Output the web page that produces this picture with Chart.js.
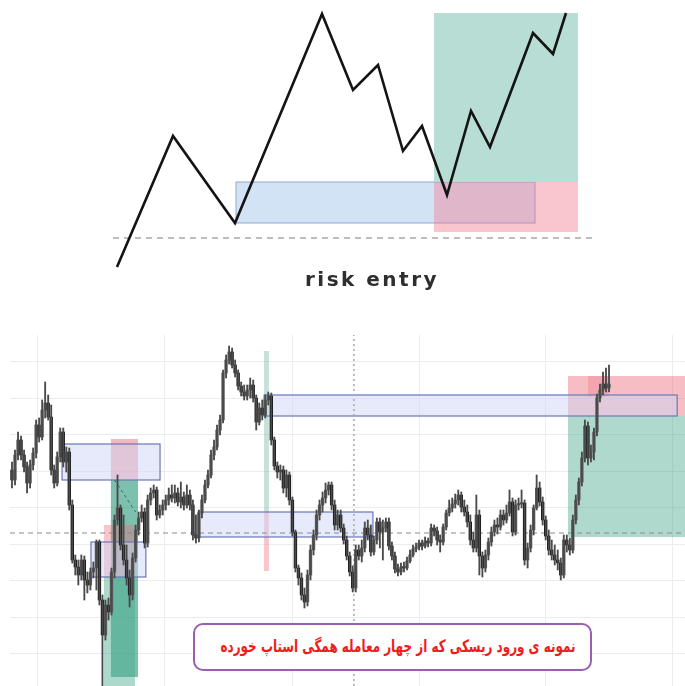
<!DOCTYPE html>
<html>
<head>
<meta charset="utf-8">
<script src="https://cdn.jsdelivr.net/npm/chart.js@4.4.1/dist/chart.umd.min.js"></script>
<style>
  body { margin: 0; width: 685px; height: 686px; background: #fff; position: relative; overflow: hidden; }
  canvas { position: absolute; }
  #topChart { left: 100px; top: 0; }
  #candleChart { left: 10px; top: 335px; }
  #caption { position: absolute; left: 222px; width: 300px; top: 268px; text-align: center;
    font: bold 20px "DejaVu Sans", sans-serif; letter-spacing: 2.5px; color: #2e2e2e; line-height: 22px; }
  #note { position: absolute; left: 193px; top: 623px; width: 399px; height: 48px; box-sizing: border-box;
    border: 2px solid #9b5fb0; border-radius: 10px; background: #fff; }
  #note span { position: absolute; right: 14px; top: 10px; direction: rtl; color: #f01c1c;
    font: bold 17px "DejaVu Sans", sans-serif; white-space: nowrap; display: inline-block;
    transform-origin: right center; line-height: 22px; }
</style>
</head>
<body>
<canvas id="topChart" width="500" height="275"></canvas>
<div id="caption">risk entry</div>
<canvas id="candleChart" width="675" height="351"></canvas>
<div id="note"><span>نمونه ی ورود ریسکی که از چهار معامله همگی استاپ خورده</span></div>
<script>
// --- top sketch: swing path ---
const swingX = [17, 73, 135, 222, 253, 278, 303, 322, 347, 371, 390, 433, 453, 466];
const swingY = [8, 139, 52, 261, 185, 210, 124, 149, 80, 164, 128, 242, 221, 262];

// --- candles (price units) ---
const firstOpen = 216;
const closes = [206,231,246,231,219,203,221,233,261,249,276,283,269,216,203,229,254,224,234,181,
  126,119,111,126,106,101,114,118,144,86,51,81,74,114,166,
  178,141,126,108,91,128,156,168,174,143,186,193,196,171,176,181,186,191,188,193,184,189,181,191,181,151,148,173,186,201,211,231,239,256,266,313,326,334,321,
  313,300,294,290,296,301,288,264,278,271,286,290,246,220,214,216,198,211,186,154,118,108,91,84,111,136,151,171,181,188,196,201,181,161,171,158,146,130,114,98,
  136,130,138,158,151,134,146,164,154,158,164,140,130,117,114,119,118,125,131,137,139,143,140,145,143,158,155,146,144,159,173,178,182,186,191,179,
  174,164,146,138,171,130,118,131,144,154,161,159,171,166,173,184,154,181,182,183,126,138,156,178,198,184,166,150,136,131,126,123,111,146,
  141,136,166,186,204,228,260,228,234,254,288,296,302,298,302];
const highs = [224,236,254,250,236,224,226,238,266,268,286,304,291,281,221,234,258,258,239,238,
  186,131,126,131,130,114,118,124,146,146,91,86,88,118,171,
  211,181,171,141,116,133,161,174,181,178,191,198,201,199,181,186,191,198,201,201,198,204,194,201,196,186,171,176,191,206,216,236,246,261,271,316,331,340,338,
  326,316,304,301,301,308,306,291,283,286,291,294,293,249,224,221,220,216,214,189,156,121,113,98,116,141,156,176,186,194,203,204,204,186,176,176,162,150,134,120,
  141,141,146,164,166,161,150,168,168,166,168,168,144,134,122,123,124,129,136,141,143,146,146,149,148,162,161,159,151,162,176,186,188,192,196,194,
  186,181,171,154,191,176,134,136,148,159,166,168,176,176,181,196,188,186,188,196,186,143,161,181,211,204,189,170,156,146,141,136,128,151,
  151,148,171,191,208,234,266,264,241,258,292,302,314,318,321];
const lows = [198,201,226,226,214,193,198,216,228,244,246,268,266,211,198,200,224,219,214,176,
  123,111,101,106,86,93,96,108,96,81,0,46,66,71,108,
  161,136,121,101,79,86,124,151,164,138,139,181,188,166,168,171,176,181,184,183,180,178,176,178,176,146,143,144,168,183,198,208,226,236,251,263,308,322,318,
  309,296,290,286,286,288,284,256,261,266,268,281,241,216,208,206,193,189,181,150,114,101,86,78,80,106,131,146,166,174,183,191,176,156,156,154,142,126,110,94,
  94,126,124,134,146,130,131,142,138,126,154,136,126,113,110,111,114,116,123,129,134,136,136,138,139,140,150,141,134,141,156,170,174,178,181,174,
  170,159,141,134,134,111,109,114,126,140,150,152,156,161,163,170,150,151,176,178,121,118,134,151,176,180,161,146,131,126,121,116,106,108,
  134,131,133,162,181,200,224,221,224,226,250,284,291,294,294];
const gridX = [8.6, 50.7, 92.9, 135, 176.8, 218.9];
const gridY = [33, 69, 106, 142, 178, 215, 251, 288, 324];

const opens = [firstOpen].concat(closes.slice(0, -1));

// squeeze the persian note to the width it has in the picture
const noteSpan = document.querySelector('#note span');
noteSpan.style.transform = 'scaleX(' + (355 / noteSpan.getBoundingClientRect().width) + ')';

// zone drawing (data units -> pixels through the scales)
function zonesPlugin(zones, guides) {
  return {
    id: 'zones',
    beforeDatasetsDraw(chart) {
      const { ctx, scales: { x, y } } = chart;
      ctx.save();
      zones.forEach(z => {
        const l = x.getPixelForValue(z.x0), r = x.getPixelForValue(z.x1);
        const t = y.getPixelForValue(z.y1), b = y.getPixelForValue(z.y0);
        ctx.fillStyle = z.fill;
        ctx.fillRect(l, t, r - l, b - t);
        if (z.stroke) {
          ctx.strokeStyle = z.stroke;
          ctx.lineWidth = z.lw || 1;
          ctx.strokeRect(l, t, r - l, b - t);
        }
      });
      guides.forEach(g => {
        ctx.beginPath();
        ctx.setLineDash(g.dash);
        ctx.strokeStyle = g.color;
        ctx.lineWidth = g.lw;
        ctx.moveTo(x.getPixelForValue(g.x0), y.getPixelForValue(g.y0));
        ctx.lineTo(x.getPixelForValue(g.x1), y.getPixelForValue(g.y1));
        ctx.stroke();
      });
      ctx.restore();
    }
  };
}

const hidden = { display: false };

new Chart(document.getElementById('topChart'), {
  type: 'scatter',
  data: {
    datasets: [{
      data: swingX.map((v, i) => ({ x: v, y: swingY[i] })),
      showLine: true,
      borderColor: '#141414',
      borderWidth: 2.6,
      pointRadius: 0,
      clip: false
    }]
  },
  options: {
    responsive: false,
    animation: false,
    layout: { padding: 0 },
    plugins: { legend: hidden, tooltip: { enabled: false } },
    scales: {
      x: { type: 'linear', min: 0, max: 500, display: false },
      y: { min: 0, max: 275, display: false }
    }
  },
  plugins: [zonesPlugin([
    { x0: 136, x1: 435, y0: 52, y1: 93, fill: '#d3e3f6', stroke: '#93a6d0' },
    { x0: 334, x1: 478, y0: 43, y1: 93, fill: 'rgba(240,120,140,0.42)' },
    { x0: 334, x1: 478, y0: 93, y1: 262, fill: '#b8ddd4' }
  ], [
    { x0: 13, x1: 492, y0: 37, y1: 37, dash: [6, 5], color: '#7a7a7a', lw: 1 }
  ])]
});

const idx = closes.map((c, i) => i);
const bull = idx.map(i => closes[i] >= opens[i]);

new Chart(document.getElementById('candleChart'), {
  type: 'bar',
  data: {
    datasets: [{
      data: idx.map(i => ({ x: i, y: [Math.min(lows[i], opens[i], closes[i]), Math.max(highs[i], opens[i], closes[i])] })),
      backgroundColor: '#4a4a4a',
      barThickness: 1.2,
      grouped: false
    }, {
      data: idx.map(i => ({ x: i, y: [opens[i], closes[i]] })),
      backgroundColor: bull.map(b => b ? '#5e5e5e' : '#121212'),
      barThickness: 2.7,
      minBarLength: 1.5,
      grouped: false
    }]
  },
  options: {
    responsive: false,
    animation: false,
    layout: { padding: 0 },
    plugins: { legend: hidden, tooltip: { enabled: false } },
    scales: {
      x: {
        type: 'linear', min: -0.66, max: 223.2, offset: false,
        grid: { color: '#ececec', offset: false, drawTicks: false },
        border: { display: false }, ticks: { display: false },
        afterBuildTicks: s => { s.ticks = gridX.map(v => ({ value: v })); }
      },
      y: {
        min: 0, max: 351,
        grid: { color: '#ececec', drawTicks: false },
        border: { display: false }, ticks: { display: false },
        afterBuildTicks: s => { s.ticks = gridY.map(v => ({ value: v })); }
      }
    }
  },
  plugins: [zonesPlugin([
    { x0: 32.8, x1: 41.8, y0: 206, y1: 247, fill: 'rgba(235,110,125,0.5)' },
    { x0: 32.8, x1: 41.8, y0: 9, y1: 206, fill: 'rgba(40,150,120,0.6)' },
    { x0: 30.5, x1: 40.8, y0: 109, y1: 161, fill: 'rgba(235,110,125,0.4)' },
    { x0: 30.5, x1: 40.8, y0: 0, y1: 109, fill: 'rgba(70,170,140,0.45)' },
    { x0: 83.6, x1: 85.2, y0: 174, y1: 335, fill: 'rgba(90,170,150,0.35)' },
    { x0: 83.6, x1: 85.2, y0: 115, y1: 174, fill: 'rgba(235,110,125,0.4)' },
    { x0: 184.4, x1: 224, y0: 270, y1: 310, fill: 'rgba(235,110,125,0.45)' },
    { x0: 191, x1: 197.7, y0: 289, y1: 310, fill: 'rgba(235,110,125,0.3)' },
    { x0: 184.4, x1: 224, y0: 149, y1: 270, fill: 'rgba(80,170,145,0.45)' },
    { x0: 16.6, x1: 49.1, y0: 206, y1: 242, fill: 'rgba(205,213,245,0.5)', stroke: '#6878b8', lw: 1.2 },
    { x0: 26.2, x1: 44.4, y0: 109, y1: 144, fill: 'rgba(205,213,245,0.5)', stroke: '#6878b8', lw: 1.2 },
    { x0: 61.7, x1: 119.7, y0: 149, y1: 174, fill: 'rgba(205,213,245,0.5)', stroke: '#6878b8', lw: 1.2 },
    { x0: 83.6, x1: 220.6, y0: 270, y1: 291, fill: 'rgba(205,213,245,0.5)', stroke: '#6878b8', lw: 1.2 }
  ], [
    { x0: -0.66, x1: 224, y0: 153, y1: 153, dash: [5, 4], color: '#8a8a8a', lw: 1 },
    { x0: 113.4, x1: 113.4, y0: 0, y1: 351, dash: [2, 3], color: '#a8a8a8', lw: 1.5 },
    { x0: 34, x1: 41, y0: 206, y1: 174, dash: [3, 3], color: '#2f6f5f', lw: 1 }
  ])]
});
</script>
</body>
</html>
